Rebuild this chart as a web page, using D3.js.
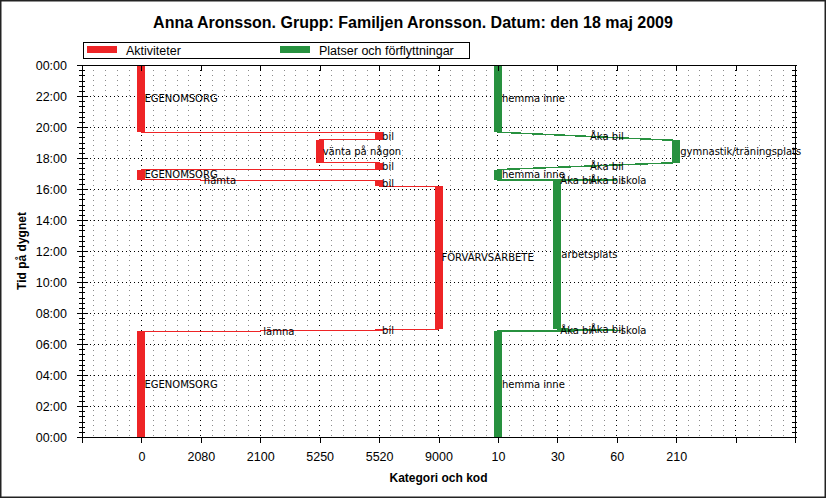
<!DOCTYPE html>
<html>
<head>
<meta charset="utf-8">
<script src="https://cdn.jsdelivr.net/npm/d3@7"></script>
<style>
  body { margin: 0; background: #fff; }
  svg text { font-family: "Liberation Sans", Arial, sans-serif; }
  .lbl { font-family: "DejaVu Sans", sans-serif; font-size: 10px; fill: #000; }
</style>
</head>
<body>
<div id="chart-area"></div>
<script>
// kategorier på x-axeln (aktivitetskoder sen platskoder)
const xCats = ["0", "2080", "2100", "5250", "5520", "9000", "10", "30", "60", "210"];
const hourTicks = [0, 2, 4, 6, 8, 10, 12, 14, 16, 18, 20, 22, 24];
const hourLabels = ["00:00", "02:00", "04:00", "06:00", "08:00", "10:00", "12:00",
                    "14:00", "16:00", "18:00", "20:00", "22:00", "00:00"];

// aktiviteter (röd)
const actCodes  = ["0", "2100", "5520", "9000", "5520", "2080", "0", "5520", "5250", "5520", "0"];
const actLabels = ["EGENOMSORG", "lämna", "bil", "FÖRVÄRVSARBETE", "bil", "hämta",
                   "EGENOMSORG", "bil", "vänta på någon", "bil", "EGENOMSORG"];
const actStart  = ["00:00", "06:50", "06:51", "06:58", "16:11", "16:33", "16:35", "17:15", "17:42", "19:10", "19:40"];
const actEnd    = ["06:50", "06:51", "06:58", "16:11", "16:33", "16:35", "17:15", "17:42", "19:10", "19:40", "24:00"];

// platser (grön)
const placeCodes  = ["10", "60", "30", "60", "10", "210", "10"];
const placeLabels = ["hemma inne", "skola", "arbetsplats", "skola", "hemma inne",
                     "gymnastik/träningsplats", "hemma inne"];
const placeStart  = ["00:00", "06:52", "06:58", "16:34", "16:35", "17:42", "19:40"];
const placeEnd    = ["06:50", "06:53", "16:33", "16:34", "17:15", "19:08", "24:00"];
// förflyttningar mellan platserna
const moveLabels  = ["Åka bil", "Åka bil", "Åka bil", "Åka bil", "Åka bil", "Åka bil"];

const red = "#ee2426", green = "#27913f";

function toHours(s) {
  let p = s.split(":");
  return +p[0] + (+p[1]) / 60;
}

var W = 826, H = 498;
var margin = { left: 82, right: 31, top: 65, bottom: 61 };
var width = W - margin.left - margin.right,
    height = H - margin.top - margin.bottom;

var svg = d3.select("#chart-area")
  .append("svg")
    .attr("width", W)
    .attr("height", H);

svg.append("rect")
  .attr("x", 0.5).attr("y", 0.5)
  .attr("width", W - 1).attr("height", H - 1)
  .attr("fill", "#fff")
  .attr("stroke", "#222")
  .attr("stroke-width", 2);

svg.append("text")
  .attr("x", W / 2)
  .attr("y", 28)
  .attr("text-anchor", "middle")
  .attr("font-size", "16px")
  .attr("font-weight", "bold")
  .text("Anna Aronsson. Grupp: Familjen Aronsson. Datum: den 18 maj 2009");

// legend
var leg = svg.append("g").attr("shape-rendering", "crispEdges");
leg.append("rect")
  .attr("x", 83.5).attr("y", 42.5).attr("width", 386).attr("height", 16)
  .attr("fill", "#fff").attr("stroke", "#000");
leg.append("rect").attr("x", 87).attr("y", 46).attr("width", 30).attr("height", 7).attr("fill", red);
leg.append("text").attr("x", 126).attr("y", 55).attr("font-size", "12.5px").text("Aktiviteter");
leg.append("rect").attr("x", 280).attr("y", 46).attr("width", 30).attr("height", 7).attr("fill", green);
leg.append("text").attr("x", 319).attr("y", 55).attr("font-size", "12.5px").text("Platser och förflyttningar");

var g = svg.append("g")
  .attr("transform", "translate(" + margin.left + ", " + margin.top + ")");

let x = d3.scalePoint()
  .domain(["start"].concat(xCats, ["end1", "end2"]))
  .range([0, width]);

let xFine = d3.scaleLinear()
  .domain([0, (x.domain().length - 1) * 5])
  .range([0, width]);

let y = d3.scaleLinear()
  .domain([0, 24])
  .range([height, 0]);

// rutnät
let grid = g.append("g").attr("shape-rendering", "crispEdges");
grid.selectAll(".vminor")
  .data(d3.range(1, (x.domain().length - 1) * 5).filter(i => i % 5 != 0))
  .enter().append("line")
  .attr("x1", d => xFine(d)).attr("x2", d => xFine(d))
  .attr("y1", 0).attr("y2", height)
  .attr("stroke", "#8a8a8a")
  .attr("stroke-dasharray", "1,4");
grid.selectAll(".vmajor")
  .data(x.domain().slice(1, -1))
  .enter().append("line")
  .attr("x1", d => x(d)).attr("x2", d => x(d))
  .attr("y1", 0).attr("y2", height)
  .attr("stroke", "#000")
  .attr("stroke-dasharray", "1,4");
grid.selectAll(".hmajor")
  .data(hourTicks.slice(1, -1))
  .enter().append("line")
  .attr("x1", 0).attr("x2", width)
  .attr("y1", d => y(d)).attr("y2", d => y(d))
  .attr("stroke", "#000")
  .attr("stroke-dasharray", "1,3");

// bygg segment
let acts = actCodes.map((c, i) => ({
  code: c, label: actLabels[i], s: toHours(actStart[i]), e: toHours(actEnd[i])
}));
let places = placeCodes.map((c, i) => ({
  code: c, label: placeLabels[i], s: toHours(placeStart[i]), e: toHours(placeEnd[i])
}));
let moves = moveLabels.map((l, i) => ({
  label: l,
  x0: x(places[i].code), t0: places[i].e,
  x1: x(places[i + 1].code), t1: places[i + 1].s
}));

function stepPoints(segs) {
  let pts = [];
  segs.forEach(d => {
    pts.push([x(d.code), y(d.s)]);
    pts.push([x(d.code), y(d.e)]);
  });
  return pts;
}

let line = d3.line();

g.append("path")
  .attr("d", line(stepPoints(acts)))
  .attr("fill", "none")
  .attr("stroke", red)
  .attr("stroke-width", 1)
  .attr("shape-rendering", "crispEdges");

g.append("path")
  .attr("d", line(stepPoints(places)))
  .attr("fill", "none")
  .attr("stroke", green)
  .attr("stroke-width", 1.5)
  .attr("shape-rendering", "crispEdges");

g.selectAll(".act")
  .data(acts)
  .enter().append("rect")
  .attr("class", "act")
  .attr("x", d => x(d.code) - 4)
  .attr("width", 8)
  .attr("y", d => y(d.e))
  .attr("height", d => y(d.s) - y(d.e))
  .attr("fill", red)
  .attr("shape-rendering", "crispEdges");

g.selectAll(".place")
  .data(places)
  .enter().append("rect")
  .attr("class", "place")
  .attr("x", d => x(d.code) - 4)
  .attr("width", 8)
  .attr("y", d => y(d.e))
  .attr("height", d => y(d.s) - y(d.e))
  .attr("fill", green)
  .attr("shape-rendering", "crispEdges");

// axlar
function styleAxis(sel) {
  sel.selectAll("path, line").attr("stroke", "#000").attr("shape-rendering", "crispEdges");
  sel.selectAll("text").attr("font-family", "Liberation Sans, Arial, sans-serif")
    .attr("font-size", "12.5px").attr("fill", "#000");
}

let minorTicks = d3.range(0, 73).map(i => i / 3);

g.append("g")
  .call(d3.axisLeft(y).tickValues(minorTicks).tickSize(3).tickSizeOuter(0).tickFormat(""))
  .call(styleAxis)
  .selectAll(".tick line").attr("x2", -3).attr("x1", 3);

g.append("g")
  .attr("class", "y-axis")
  .call(d3.axisLeft(y).tickValues(hourTicks).tickFormat((d, i) => hourLabels[i])
        .tickSize(5).tickPadding(10).tickSizeOuter(0))
  .call(styleAxis)
  .selectAll(".tick line").attr("x1", 6);

g.append("g")
  .attr("transform", "translate(" + width + ", 0)")
  .call(d3.axisRight(y).tickValues(minorTicks).tickSize(2).tickSizeOuter(0).tickFormat(""))
  .call(styleAxis)
  .selectAll(".tick line").attr("x1", -3);

g.append("g")
  .call(d3.axisTop(x).tickSize(-6).tickSizeOuter(0).tickFormat(""))
  .call(styleAxis);

g.append("g")
  .attr("class", "x-axis")
  .attr("transform", "translate(0, " + height + ")")
  .call(d3.axisBottom(x).tickSize(6).tickPadding(9).tickSizeOuter(0)
        .tickFormat(d => xCats.includes(d) ? d : ""))
  .call(styleAxis);

// etiketter
g.selectAll(".actlbl")
  .data(acts)
  .enter().append("text")
  .attr("class", "lbl")
  .attr("x", d => x(d.code) + 3)
  .attr("y", d => y((d.s + d.e) / 2))
  .attr("dy", "0.36em")
  .text(d => d.label);

g.selectAll(".placelbl")
  .data(places)
  .enter().append("text")
  .attr("class", "lbl")
  .attr("x", d => x(d.code) + 4)
  .attr("y", d => y((d.s + d.e) / 2))
  .attr("dy", "0.36em")
  .text(d => d.label);

g.selectAll(".movelbl")
  .data(moves)
  .enter().append("text")
  .attr("class", "lbl")
  .attr("x", d => (d.x0 + d.x1) / 2 + 3)
  .attr("y", d => (y(d.t0) + y(d.t1)) / 2)
  .attr("dy", "0.36em")
  .text(d => d.label);

// axeltitlar
svg.append("text")
  .attr("x", margin.left + width / 2)
  .attr("y", 482)
  .attr("text-anchor", "middle")
  .attr("font-size", "12px")
  .attr("font-weight", "bold")
  .text("Kategori och kod");

svg.append("text")
  .attr("transform", "translate(26, " + (margin.top + height / 2) + ") rotate(-90)")
  .attr("text-anchor", "middle")
  .attr("font-size", "12px")
  .attr("font-weight", "bold")
  .text("Tid på dygnet");
</script>
</body>
</html>
